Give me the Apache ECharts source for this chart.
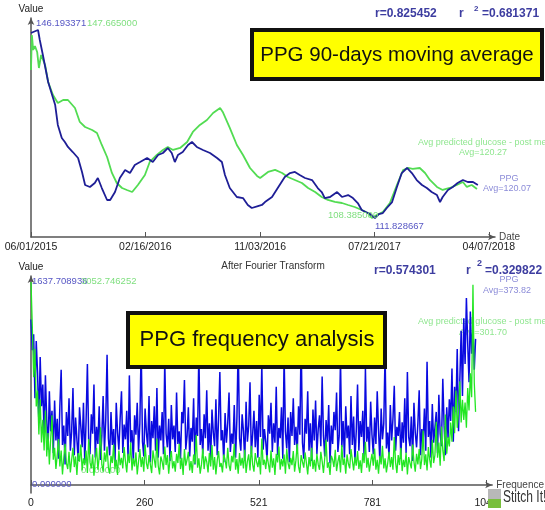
<!DOCTYPE html>
<html>
<head>
<meta charset="utf-8">
<script src="https://cdn.jsdelivr.net/npm/echarts@6/dist/echarts.min.js"></script>
<style>
  html, body { margin: 0; padding: 0; background: #fff; }
  #main { width: 545px; height: 510px; }
</style>
</head>
<body>
<div id="main"></div>
<script>
// 90-days moving average, x = days since 06/01/2015
var ppgDay = [0, 5, 16, 20, 27, 39, 48, 55, 61, 70, 77, 84, 95, 107, 116, 123, 134, 145, 152, 161,
  173, 180, 191, 202, 214, 225, 236, 248, 264, 277, 289, 300, 311, 320, 327, 334, 345, 357, 366, 377,
  391, 407, 423, 434, 441, 452, 468, 482, 493, 502, 516, 525, 532, 548, 561, 577, 589, 600, 611, 623,
  639, 652, 661, 668, 680, 696, 707, 721, 732, 743, 752, 761, 771, 782, 791, 800, 809, 821, 832, 843,
  855, 866, 877, 889, 900, 911, 923, 930, 936, 948, 959, 970, 982, 993, 1005, 1016];
var ppgVal = [145.64, 145.82, 146.19, 144.36, 141.62, 136.69, 134.31, 132.48, 128.83, 126.45,
  125.72, 124.81, 123.89, 122.80, 120.24, 117.86, 117.50, 118.23, 119.14, 117.31,
  115.12, 115.12, 116.58, 119.14, 120.60, 120.05, 121.52, 122.06, 122.80, 122.06,
  123.34, 123.71, 124.62, 123.71, 122.06, 123.34, 123.89, 125.17, 125.72, 124.81,
  124.26, 123.71, 122.80, 122.06, 119.69, 117.31, 115.67, 115.48, 114.21, 113.66,
  114.02, 114.21, 114.75, 115.67, 117.31, 119.32, 120.05, 120.24, 119.69, 119.14,
  118.77, 117.31, 116.58, 115.48, 115.67, 116.58, 115.67, 116.03, 115.48, 114.57,
  113.29, 112.93, 112.56, 111.83, 112.56, 112.74, 113.66, 114.75, 117.50, 120.05,
  120.97, 120.05, 118.77, 117.86, 117.31, 116.58, 116.03, 114.75, 115.67, 116.95,
  117.50, 118.23, 118.77, 118.41, 118.41, 117.86];
var gluDay = [0, 2, 5, 9, 14, 18, 23, 32, 39, 50, 61, 73, 84, 100, 111, 123, 139, 150, 161, 173,
  184, 195, 207, 218, 230, 243, 259, 270, 286, 300, 311, 323, 339, 355, 368, 384, 400, 414, 430, 436,
  452, 468, 482, 498, 514, 521, 539, 555, 571, 584, 600, 616, 630, 646, 661, 675, 691, 707, 721, 736,
  752, 766, 775, 786, 800, 816, 832, 846, 857, 868, 884, 896, 907, 923, 936, 952, 968, 982, 991, 1002, 1014];
var gluVal = [140.15, 147.67, 144.45, 145.30, 144.02, 140.58, 143.37, 141.22, 137.58, 134.79,
  133.07, 133.71, 133.71, 132.00, 129.00, 127.92, 127.28, 126.63, 124.06, 121.48,
  118.05, 115.90, 114.83, 114.40, 113.97, 115.47, 117.62, 120.41, 121.91, 122.99,
  123.63, 122.99, 123.42, 124.70, 126.85, 128.35, 129.42, 130.92, 132.00, 131.14,
  127.71, 124.06, 121.91, 119.12, 117.41, 116.98, 118.27, 118.70, 118.05, 117.19,
  116.55, 115.90, 114.83, 113.97, 112.90, 112.26, 111.83, 111.61, 111.18, 110.75,
  110.11, 109.47, 108.39, 109.04, 109.68, 111.61, 115.47, 118.69, 119.12, 118.91,
  119.12, 118.05, 116.55, 115.05, 114.40, 114.83, 115.47, 116.12, 115.05, 115.47, 114.62];

var dateTickPos = [0, 260, 521, 781, 1041];
var dateTickText = ['06/01/2015', '02/16/2016', '11/03/2016', '07/21/2017', '04/07/2018'];
var freqTickPos = [0, 260, 521, 781, 1041];
var freqTickText = ['0', '260', '521', '781', '1041'];

// after Fourier transform, one value every freqStep
var freqStep = 3;
var ppgFreq = [
  1450, 1180, 1320, 760, 1260, 980, 540, 1120, 690, 880,
  420, 960, 560, 310, 820, 470, 650, 280, 740, 390,
  580, 230, 690, 1010, 350, 520, 180, 640, 430, 760,
  300, 470, 850, 260, 590, 400, 210, 680, 510, 330,
  720, 190, 560, 1060, 380, 270, 620, 450, 880, 240,
  510, 360, 690, 220, 430, 780, 300, 570, 1140, 410,
  260, 640, 350, 490, 170, 720, 460, 310, 590, 820,
  280, 530, 400, 650, 230, 960, 370, 480, 210, 610,
  440, 720, 290, 540, 1210, 380, 250, 670, 460, 330,
  780, 200, 560, 410, 690, 300, 850, 240, 520, 390,
  640, 270, 1090, 450, 330, 580, 210, 700, 400, 520,
  290, 810, 360, 470, 230, 640, 540, 920, 310, 430,
  680, 250, 500, 380, 760, 180, 590, 430, 1170, 350,
  490, 270, 620, 410, 830, 300, 540, 220, 660, 460,
  340, 750, 260, 570, 990, 390, 480, 200, 630, 370,
  540, 810, 290, 450, 360, 700, 240, 580, 1250, 410,
  300, 620, 470, 210, 730, 380, 520, 900, 270, 440,
  650, 330, 560, 240, 790, 420, 1060, 310, 490, 380,
  220, 610, 450, 720, 290, 540, 370, 860, 260, 500,
  410, 680, 230, 1130, 470, 320, 590, 200, 640, 430,
  760, 350, 510, 280, 690, 440, 1290, 370, 230, 580,
  450, 820, 300, 540, 210, 660, 390, 740, 270, 490,
  610, 340, 950, 430, 250, 570, 380, 700, 190, 520,
  360, 640, 480, 810, 290, 430, 1100, 330, 560, 240,
  690, 410, 520, 270, 780, 350, 600, 220, 470, 880,
  300, 560, 420, 650, 240, 1020, 380, 510, 290, 730,
  440, 270, 590, 360, 820, 480, 210, 670, 400, 540,
  1160, 320, 460, 250, 700, 390, 580, 870, 300, 510,
  430, 640, 230, 550, 370, 760, 280, 990, 420, 340,
  600, 210, 720, 460, 330, 540, 830, 260, 490, 380,
  670, 300, 1080, 420, 560, 240, 710, 370, 500, 640,
  280, 790, 450, 340, 930, 520, 260, 680, 410, 750,
  560, 1020, 380, 860, 640, 1190, 470, 920, 1350, 780,
  1460, 1060, 1637.7, 1240, 900, 1520, 1150, 1380, 1010, 1280];
var gluFreq = [
  3052.7, 2380, 1620, 2050, 1180, 1420, 760, 1290, 640, 980,
  520, 1120, 430, 780, 310, 690, 1050, 380, 560, 240,
  450, 690, 280, 520, 160, 410, 620, 330, 240, 500,
  190, 380, 560, 270, 430, 150, 480, 350, 610, 220,
  400, 300, 520, 180, 690, 340, 250, 460, 140, 380,
  560, 230, 420, 870, 310, 200, 490, 350, 580, 260,
  170, 440, 330, 610, 240, 380, 150, 520, 300, 410,
  250, 570, 360, 190, 470, 330, 640, 220, 400, 280,
  490, 160, 350, 540, 270, 420, 200, 610, 330, 240,
  450, 310, 180, 520, 380, 260, 700, 290, 160, 430,
  350, 230, 580, 300, 450, 170, 390, 510, 250, 360,
  200, 470, 330, 620, 240, 410, 150, 540, 290, 380,
  500, 220, 360, 180, 460, 320, 750, 260, 400, 170,
  310, 550, 240, 430, 350, 190, 480, 280, 600, 230,
  420, 160, 370, 510, 270, 330, 190, 460, 380, 250,
  560, 300, 210, 440, 340, 620, 230, 390, 170, 480,
  290, 410, 250, 530, 180, 360, 460, 220, 590, 310,
  200, 480, 350, 270, 420, 160, 700, 300, 380, 240,
  450, 320, 190, 520, 260, 400, 150, 470, 340, 580,
  230, 390, 280, 460, 170, 540, 330, 240, 410, 300,
  510, 200, 370, 620, 280, 180, 450, 350, 260, 490,
  330, 160, 420, 280, 560, 240, 380, 200, 470, 310,
  230, 500, 360, 180, 410, 680, 260, 340, 150, 440,
  380, 270, 530, 210, 350, 450, 190, 600, 300, 400,
  170, 460, 320, 250, 540, 380, 220, 420, 290, 510,
  240, 370, 180, 480, 330, 650, 260, 410, 200, 350,
  470, 290, 550, 230, 380, 170, 440, 310, 590, 250,
  400, 190, 330, 500, 270, 420, 230, 720, 340, 180,
  450, 300, 560, 210, 380, 270, 490, 160, 420, 330,
  250, 610, 350, 200, 470, 310, 540, 240, 390, 820,
  300, 460, 220, 570, 380, 260, 680, 330, 450, 950,
  410, 640, 290, 880, 520, 360, 1060, 470, 720, 580,
  940, 650, 1180, 780, 1420, 860, 1090, 1560, 940, 1280,
  980, 1240, 860, 1460, 1120, 1680, 1320, 3010, 1540, 1100];

var FONT = 'Liberation Sans, Arial, sans-serif';
var BLUE_TXT = '#5656c4', GREEN_TXT = '#7fdf7f';
var AVG_BLUE = '#8c8cd8', AVG_GREEN = '#8fe68f';

function pairs(xs, ys) {
  return xs.map(function (x, i) { return [x, ys[i]]; });
}
function steps(vals) {
  return vals.map(function (v, i) { return [i * freqStep, v]; });
}

function xAx(grid, name, pos, txt) {
  return {
    type: 'value', gridIndex: grid, min: 0, max: 1055,
    name: name, nameLocation: 'end', nameGap: 4,
    nameTextStyle: { fontSize: 10, color: '#444', fontFamily: FONT },
    axisLine: { lineStyle: { color: '#555', width: 1.5 }, symbol: ['none', 'arrow'], symbolSize: [5, 7] },
    axisTick: { show: true, inside: true, length: 5, customValues: pos, lineStyle: { color: '#555' } },
    axisLabel: {
      customValues: pos, margin: 5, fontSize: 10.5, color: '#222', fontFamily: FONT,
      formatter: function (v) { return txt[pos.indexOf(v)]; }
    },
    splitLine: { show: false }
  };
}
function yAx(grid, min, max, visible) {
  return {
    type: 'value', gridIndex: grid, min: min, max: max, show: visible,
    name: 'Value', nameLocation: 'end', nameGap: 4,
    nameTextStyle: { fontSize: 10, color: '#222', fontFamily: FONT },
    axisLine: { show: true, lineStyle: { color: '#555', width: 1.5 }, symbol: ['none', 'arrow'], symbolSize: [5, 7] },
    axisTick: { show: false }, axisLabel: { show: false }, splitLine: { show: false }
  };
}
function txt(s, x, y, color, size, opts) {
  var o = opts || {};
  var el = {
    type: 'text', x: x, y: y, z: o.z === undefined ? 100 : o.z,
    style: {
      text: s, fill: color, font: (o.bold ? 'bold ' : '') + size + 'px ' + FONT,
      textAlign: o.align || 'left', textVerticalAlign: 'middle',
      align: o.align || 'left', verticalAlign: 'middle'
    }
  };
  if (o.scaleX) el.scaleX = o.scaleX;
  return el;
}

var chart = echarts.init(document.getElementById('main'));
chart.setOption({
  animation: false,
  backgroundColor: '#fff',
  grid: [
    { left: 31, top: 18, width: 464, height: 219 },
    { left: 31, top: 276, width: 464, height: 217 }
  ],
  xAxis: [
    xAx(0, 'Date', dateTickPos, dateTickText),
    xAx(1, 'Frequence', freqTickPos, freqTickText)
  ],
  yAxis: [
    yAx(0, 108.36, 148.38, true),
    yAx(0, 104.31, 151.31, false),
    yAx(1, -70, 1830.4, true),
    yAx(1, -120, 3143, false)
  ],
  series: [
    { type: 'line', xAxisIndex: 0, yAxisIndex: 1, data: pairs(gluDay, gluVal), showSymbol: false,
      lineStyle: { color: '#52dc52', width: 1.8 }, itemStyle: { color: '#52dc52' } },
    { type: 'line', xAxisIndex: 0, yAxisIndex: 0, data: pairs(ppgDay, ppgVal), showSymbol: false,
      lineStyle: { color: '#1e1e96', width: 1.8 }, itemStyle: { color: '#1e1e96' } },
    { type: 'line', xAxisIndex: 1, yAxisIndex: 2, data: steps(ppgFreq), showSymbol: false,
      lineStyle: { color: '#0a0ae0', width: 1.5 }, itemStyle: { color: '#0a0ae0' } },
    { type: 'line', xAxisIndex: 1, yAxisIndex: 3, data: steps(gluFreq), showSymbol: false,
      lineStyle: { color: '#22e622', width: 1.3 }, itemStyle: { color: '#22e622' } }
  ],
  graphic: [
    // top chart
    txt('146.193371', 36, 23, BLUE_TXT, 9.5),
    txt('147.665000', 87, 23, GREEN_TXT, 9.5),
    txt('108.385000', 328, 215, GREEN_TXT, 9.5),
    txt('111.828667', 375, 226, BLUE_TXT, 9.5),
    txt('r=0.825452', 375, 14, '#3d3da0', 12, { bold: true }),
    txt('r', 459, 14, '#3d3da0', 12, { bold: true }),
    txt('2', 474, 9, '#3d3da0', 8, { bold: true }),
    txt('=0.681371', 482, 14, '#3d3da0', 12, { bold: true }),
    txt('Avg predicted glucose - post meal', 418, 143, AVG_GREEN, 9, { z: 0 }),
    txt('Avg=120.27', 483, 153, AVG_GREEN, 9, { align: 'center', z: 0 }),
    txt('PPG', 509, 179, AVG_BLUE, 9, { align: 'center' }),
    txt('Avg=120.07', 507, 189, AVG_BLUE, 9, { align: 'center' }),
    { type: 'rect', z: 100, shape: { x: 252, y: 30, width: 290, height: 49 },
      style: { fill: '#ffff00', stroke: '#111', lineWidth: 4 } },
    txt('PPG 90-days moving average', 397, 55, '#111', 20.5, { align: 'center' }),
    // bottom chart
    txt('After Fourier Transform', 273, 266, '#333', 10, { align: 'center' }),
    txt('r=0.574301', 374, 271, '#3d3da0', 12, { bold: true }),
    txt('r', 466, 271, '#3d3da0', 12, { bold: true }),
    txt('2', 477, 264, '#3d3da0', 9, { bold: true }),
    txt('=0.329822', 485, 271, '#3d3da0', 12, { bold: true }),
    txt('1637.708936', 32, 281, BLUE_TXT, 9.5),
    txt('3052.746252', 81, 281, GREEN_TXT, 9.5),
    txt('0.000000', 32, 484, BLUE_TXT, 9.5),
    txt('0.000000', 81, 470, GREEN_TXT, 9.5, { z: 0 }),
    txt('PPG', 509, 280, AVG_BLUE, 9, { align: 'center' }),
    txt('Avg=373.82', 507, 291, AVG_BLUE, 9, { align: 'center' }),
    txt('Avg predicted glucose - post meal', 418, 322, AVG_GREEN, 9, { z: 0 }),
    txt('Avg=301.70', 483, 333, AVG_GREEN, 9, { align: 'center', z: 0 }),
    { type: 'rect', z: 100, shape: { x: 128, y: 313, width: 257, height: 54 },
      style: { fill: '#ffff00', stroke: '#111', lineWidth: 4 } },
    txt('PPG frequency analysis', 257, 340, '#111', 22, { align: 'center' }),
    // watermark
    { type: 'rect', z: 110, shape: { x: 488, y: 489, width: 13, height: 10 }, style: { fill: '#b8b8b8' } },
    { type: 'rect', z: 110, shape: { x: 488, y: 499, width: 13, height: 9 }, style: { fill: '#78bf3c' } },
    txt('Stitch It!', 503, 498, '#333', 16, { z: 110, scaleX: 0.75 })
  ]
});
</script>
</body>
</html>
